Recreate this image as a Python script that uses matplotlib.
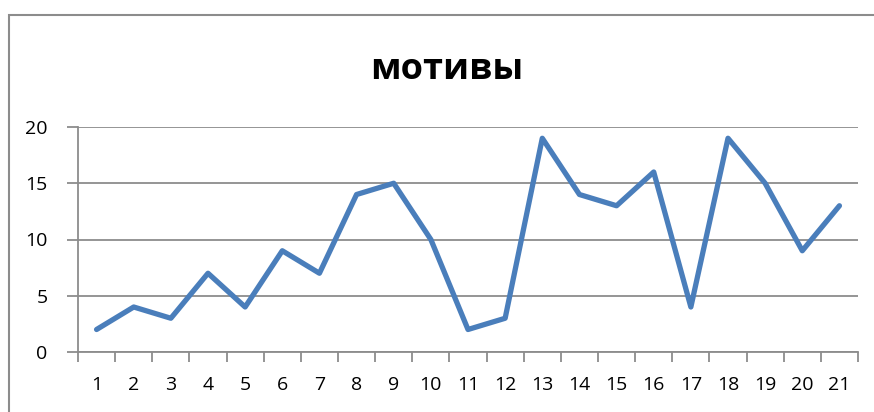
import numpy as np
import matplotlib
matplotlib.use("Agg")
import matplotlib.pyplot as plt
from matplotlib.patches import Rectangle

# data
categories = [str(i) for i in range(1, 22)]
values = [2, 4, 3, 7, 4, 9, 7, 14, 15, 10, 2, 3, 19, 14, 13, 16, 4, 19, 15, 9, 13]
y_ticks = [0, 5, 10, 15, 20]
title = "мотивы"

plt.rcParams['font.family'] = ['Open Sans', 'DejaVu Sans']

W, H = 874, 412
fig = plt.figure(figsize=(W / 100, H / 100), dpi=100)

# outer chart border (cut off at right and bottom)
fig.patches.append(Rectangle((8.5 / W, -0.1), 1.2, 1.1 - 15.5 / H,
                             transform=fig.transFigure, fill=False,
                             edgecolor='#8c8c8c', lw=1.5))

left, right, top, bottom = 78, 858, 127, 352
ax = fig.add_axes([left / W, 1 - bottom / H, (right - left) / W, (bottom - top) / H])

x = np.arange(len(values))
ax.plot(x, values, color='#4a7ebb', lw=3.8, solid_joinstyle='round', solid_capstyle='round')

ax.set_xlim(-0.5, len(values) - 0.5)
ax.set_ylim(0, 20)
ax.set_yticks(y_ticks)
ax.set_yticklabels([str(t) for t in y_ticks], fontsize=14)
ax.set_xticks(x)
ax.set_xticklabels(categories, fontsize=14)
ax.set_xticks(np.arange(len(values) + 1) - 0.5, minor=True)

ax.tick_params(axis='x', which='major', length=0, pad=17)
ax.tick_params(axis='x', which='minor', length=7, width=1.3, color='#8c8c8c', direction='out')
ax.tick_params(axis='y', length=8, width=1.3, color='#8c8c8c', direction='out', pad=14)

ax.grid(axis='y', color='#8c8c8c', lw=1.3)
ax.set_axisbelow(True)
for s in ['top', 'right']:
    ax.spines[s].set_visible(False)
for s in ['left', 'bottom']:
    ax.spines[s].set_color('#8c8c8c')
    ax.spines[s].set_linewidth(1.3)

fig.text(447 / W, 1 - 70 / H, title, ha='center', va='center',
         fontsize=26, fontweight='bold')

fig.savefig("out.png", dpi=100)
